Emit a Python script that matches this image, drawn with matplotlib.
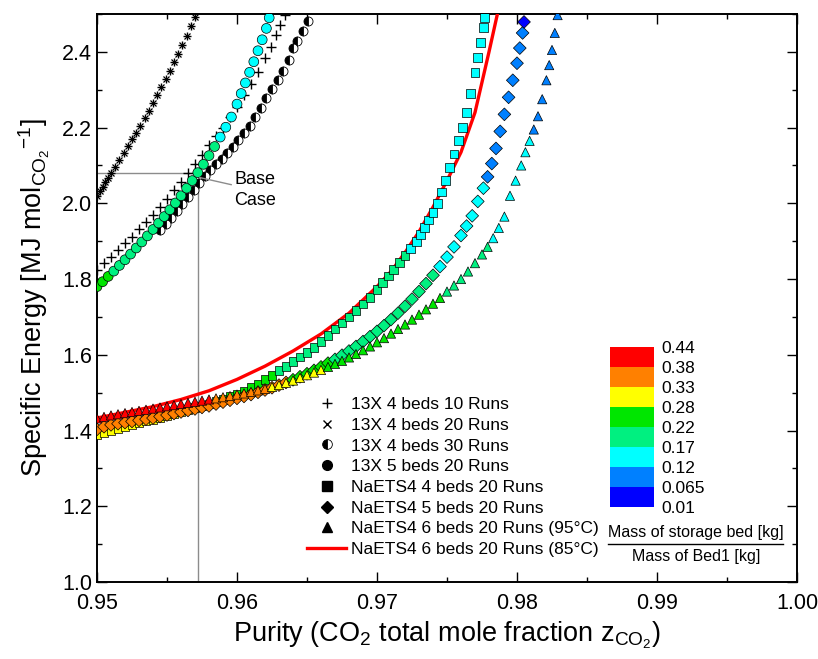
import matplotlib
matplotlib.use('Agg')
import matplotlib.pyplot as plt
from matplotlib.colors import ListedColormap, BoundaryNorm
from matplotlib.lines import Line2D
from matplotlib.cm import ScalarMappable
from matplotlib.ticker import MultipleLocator

plt.rcParams['font.family'] = ['Liberation Sans', 'DejaVu Sans']
plt.rcParams['mathtext.fontset'] = 'custom'
plt.rcParams['mathtext.rm'] = 'Liberation Sans'
plt.rcParams['mathtext.it'] = 'Liberation Sans:italic'

# === Data ===

# 13X 4 beds (upper-left curve, + and x marks)
x_13x_a = [0.9500, 0.9502, 0.9504, 0.9506, 0.9508, 0.9510, 0.9513, 0.9516, 0.9519, 0.9522,
           0.9525, 0.9528, 0.9531, 0.9534, 0.9537, 0.9540, 0.9543, 0.9546, 0.9549, 0.9552,
           0.9555, 0.9558, 0.9561, 0.9564, 0.9567, 0.9570]
y_13x_a = [2.020, 2.032, 2.044, 2.056, 2.068, 2.080, 2.097, 2.115, 2.133, 2.151,
           2.169, 2.187, 2.205, 2.225, 2.245, 2.266, 2.287, 2.308, 2.329, 2.350,
           2.372, 2.395, 2.418, 2.442, 2.467, 2.492]

# 13X 4 beds (+ marks alongside the coloured circles)
x_13x_b = [0.9500, 0.9505, 0.9510, 0.9515, 0.9520, 0.9525, 0.9530, 0.9535, 0.9540, 0.9545,
           0.9550, 0.9555, 0.9560, 0.9565, 0.9570, 0.9575, 0.9580, 0.9585, 0.9590, 0.9595,
           0.9600, 0.9605, 0.9610, 0.9615, 0.9620, 0.9624, 0.9628, 0.9631, 0.9634]
y_13x_b = [1.825, 1.842, 1.859, 1.876, 1.894, 1.912, 1.931, 1.950, 1.970, 1.991,
           2.012, 2.034, 2.056, 2.079, 2.103, 2.128, 2.154, 2.178, 2.200, 2.227,
           2.255, 2.285, 2.316, 2.348, 2.383, 2.413, 2.445, 2.470, 2.497]

# 13X 4 beds 30 Runs (half filled circles)
x_13x_30 = [0.9545, 0.9549, 0.9553, 0.9557, 0.9561, 0.9565, 0.9569, 0.9573, 0.9577, 0.9581,
            0.9585, 0.9589, 0.9593, 0.9597, 0.9601, 0.9605, 0.9609, 0.9613, 0.9617, 0.9621,
            0.9625, 0.9629, 0.9633, 0.9637, 0.9640, 0.9643, 0.9647, 0.9651]
y_13x_30 = [1.930, 1.945, 1.962, 1.980, 1.998, 2.017, 2.036, 2.055, 2.072, 2.088,
            2.103, 2.118, 2.134, 2.150, 2.167, 2.185, 2.204, 2.228, 2.252, 2.277,
            2.302, 2.325, 2.350, 2.378, 2.410, 2.430, 2.455, 2.482]

# 13X 5 beds 20 Runs (circles, coloured by mass ratio)
x_13x_5 = [0.9500, 0.9504, 0.9508, 0.9512, 0.9516, 0.9520, 0.9524, 0.9528, 0.9532, 0.9536,
           0.9540, 0.9544, 0.9548, 0.9552, 0.9556, 0.9560, 0.9564, 0.9568, 0.9572, 0.9576,
           0.9580, 0.9584, 0.9588, 0.9592, 0.9596, 0.9600, 0.9603, 0.9606, 0.9609, 0.9612,
           0.9615, 0.9618, 0.9621, 0.9623]
y_13x_5 = [1.780, 1.793, 1.807, 1.821, 1.836, 1.851, 1.866, 1.882, 1.898, 1.914,
           1.931, 1.948, 1.965, 1.983, 2.001, 2.020, 2.040, 2.060, 2.081, 2.103,
           2.126, 2.150, 2.175, 2.201, 2.228, 2.262, 2.290, 2.318, 2.346, 2.374,
           2.403, 2.432, 2.462, 2.490]
m_13x_5 = [0.24, 0.24, 0.23, 0.21, 0.21, 0.21, 0.20, 0.20, 0.20, 0.20,
           0.20, 0.20, 0.20, 0.19, 0.19, 0.19, 0.19, 0.19, 0.18, 0.18,
           0.18, 0.18, 0.16, 0.16, 0.16, 0.15, 0.15, 0.15, 0.14, 0.14,
           0.14, 0.13, 0.13, 0.13]

# NaETS4 4 beds 20 Runs (squares)
x_na4 = [0.9500, 0.9505, 0.9510, 0.9515, 0.9520, 0.9525, 0.9530, 0.9535, 0.9540, 0.9545,
         0.9550, 0.9555, 0.9560, 0.9565, 0.9570, 0.9575, 0.9580, 0.9585, 0.9590, 0.9595,
         0.9600, 0.9605, 0.9610, 0.9615, 0.9620, 0.9625, 0.9630, 0.9635, 0.9640, 0.9645,
         0.9650, 0.9655, 0.9660, 0.9665, 0.9670, 0.9675, 0.9680, 0.9685, 0.9690, 0.9695,
         0.9700, 0.9704, 0.9708, 0.9712, 0.9716, 0.9720, 0.9724, 0.9728, 0.9731, 0.9734,
         0.9737, 0.9740, 0.9743, 0.9746, 0.9749, 0.9752, 0.9755, 0.9758, 0.9761, 0.9764,
         0.9767, 0.9770, 0.9772, 0.9774, 0.9776, 0.9777]
y_na4 = [1.390, 1.395, 1.400, 1.405, 1.410, 1.415, 1.420, 1.425, 1.430, 1.435,
         1.440, 1.445, 1.450, 1.455, 1.460, 1.465, 1.470, 1.476, 1.482, 1.489,
         1.496, 1.504, 1.513, 1.523, 1.534, 1.546, 1.558, 1.570, 1.582, 1.594,
         1.606, 1.620, 1.636, 1.652, 1.668, 1.684, 1.700, 1.716, 1.734, 1.752,
         1.772, 1.790, 1.808, 1.826, 1.844, 1.862, 1.880, 1.900, 1.918, 1.936,
         1.956, 1.976, 2.000, 2.030, 2.060, 2.095, 2.130, 2.165, 2.200, 2.240,
         2.290, 2.345, 2.385, 2.425, 2.465, 2.490]
m_na4 = [0.30, 0.30, 0.30, 0.30, 0.30, 0.30, 0.30, 0.30, 0.30, 0.30,
         0.30, 0.30, 0.30, 0.30, 0.29, 0.29, 0.29, 0.25, 0.25, 0.25,
         0.25, 0.25, 0.25, 0.25, 0.25, 0.25, 0.20, 0.20, 0.20, 0.20,
         0.20, 0.20, 0.20, 0.20, 0.20, 0.20, 0.20, 0.20, 0.20, 0.20,
         0.19, 0.19, 0.19, 0.19, 0.18, 0.18, 0.15, 0.15, 0.15, 0.15,
         0.15, 0.15, 0.15, 0.14, 0.14, 0.14, 0.14, 0.14, 0.14, 0.14,
         0.13, 0.13, 0.13, 0.13, 0.13, 0.13]

# NaETS4 5 beds 20 Runs (diamonds)
x_na5 = [0.9500, 0.9505, 0.9510, 0.9515, 0.9520, 0.9525, 0.9530, 0.9535, 0.9540, 0.9545,
         0.9550, 0.9555, 0.9560, 0.9565, 0.9570, 0.9575, 0.9580, 0.9585, 0.9590, 0.9595,
         0.9600, 0.9605, 0.9610, 0.9615, 0.9620, 0.9625, 0.9630, 0.9635, 0.9640, 0.9645,
         0.9650, 0.9655, 0.9660, 0.9665, 0.9670, 0.9675, 0.9680, 0.9685, 0.9690, 0.9695,
         0.9700, 0.9705, 0.9710, 0.9715, 0.9720, 0.9725, 0.9730, 0.9735, 0.9740, 0.9745,
         0.9750, 0.9755, 0.9760, 0.9764, 0.9768, 0.9772, 0.9776, 0.9779, 0.9782, 0.9785,
         0.9788, 0.9791, 0.9794, 0.9797, 0.9800, 0.9802, 0.9804, 0.9805]
y_na5 = [1.403, 1.410, 1.415, 1.418, 1.421, 1.424, 1.427, 1.430, 1.433, 1.437,
         1.441, 1.445, 1.449, 1.453, 1.457, 1.461, 1.465, 1.470, 1.475, 1.480,
         1.485, 1.490, 1.495, 1.501, 1.507, 1.513, 1.520, 1.527, 1.534, 1.542,
         1.550, 1.559, 1.568, 1.578, 1.588, 1.599, 1.610, 1.622, 1.635, 1.648,
         1.662, 1.677, 1.693, 1.710, 1.728, 1.747, 1.767, 1.788, 1.810, 1.833,
         1.858, 1.885, 1.915, 1.940, 1.967, 2.005, 2.040, 2.070, 2.105, 2.145,
         2.190, 2.235, 2.280, 2.325, 2.370, 2.410, 2.450, 2.479]
m_na5 = [0.35, 0.35, 0.35, 0.35, 0.35, 0.35, 0.35, 0.35, 0.35, 0.35,
         0.35, 0.35, 0.35, 0.35, 0.35, 0.35, 0.35, 0.35, 0.35, 0.35,
         0.35, 0.35, 0.35, 0.35, 0.35, 0.34, 0.34, 0.34, 0.25, 0.25,
         0.25, 0.25, 0.25, 0.25, 0.20, 0.20, 0.20, 0.20, 0.20, 0.20,
         0.20, 0.20, 0.19, 0.19, 0.19, 0.19, 0.18, 0.18, 0.18, 0.15,
         0.15, 0.15, 0.14, 0.14, 0.14, 0.13, 0.13, 0.10, 0.10, 0.09,
         0.09, 0.09, 0.08, 0.08, 0.08, 0.07, 0.07, 0.03]

# NaETS4 6 beds 20 Runs 95C (triangles)
x_na6 = [0.9500, 0.9505, 0.9510, 0.9515, 0.9520, 0.9525, 0.9530, 0.9535, 0.9540, 0.9545,
         0.9550, 0.9555, 0.9560, 0.9565, 0.9570, 0.9575, 0.9580, 0.9585, 0.9590, 0.9595,
         0.9600, 0.9605, 0.9610, 0.9615, 0.9620, 0.9625, 0.9630, 0.9635, 0.9640, 0.9645,
         0.9650, 0.9655, 0.9660, 0.9665, 0.9670, 0.9675, 0.9680, 0.9685, 0.9690, 0.9695,
         0.9700, 0.9705, 0.9710, 0.9715, 0.9720, 0.9725, 0.9730, 0.9735, 0.9740, 0.9745,
         0.9750, 0.9755, 0.9760, 0.9765, 0.9770, 0.9775, 0.9779, 0.9783, 0.9787, 0.9791,
         0.9795, 0.9799, 0.9803, 0.9806, 0.9809, 0.9812, 0.9815, 0.9818, 0.9821, 0.9823,
         0.9825, 0.9827, 0.9829]
y_na6 = [1.432, 1.436, 1.440, 1.443, 1.446, 1.449, 1.452, 1.455, 1.458, 1.461,
         1.464, 1.467, 1.470, 1.473, 1.476, 1.479, 1.482, 1.485, 1.488, 1.491,
         1.495, 1.498, 1.502, 1.506, 1.510, 1.515, 1.520, 1.526, 1.532, 1.539,
         1.546, 1.553, 1.560, 1.568, 1.576, 1.584, 1.593, 1.602, 1.612, 1.622,
         1.633, 1.644, 1.656, 1.668, 1.680, 1.693, 1.706, 1.720, 1.735, 1.750,
         1.767, 1.783, 1.800, 1.820, 1.842, 1.865, 1.885, 1.908, 1.935, 1.965,
         2.020, 2.060, 2.100, 2.135, 2.165, 2.195, 2.230, 2.275, 2.325, 2.365,
         2.405, 2.450, 2.497]
m_na6 = [0.40, 0.40, 0.40, 0.40, 0.40, 0.40, 0.40, 0.40, 0.40, 0.40,
         0.40, 0.40, 0.40, 0.40, 0.40, 0.40, 0.40, 0.35, 0.35, 0.35,
         0.35, 0.35, 0.35, 0.35, 0.35, 0.30, 0.30, 0.30, 0.30, 0.30,
         0.30, 0.30, 0.30, 0.25, 0.25, 0.25, 0.25, 0.25, 0.25, 0.25,
         0.25, 0.25, 0.25, 0.25, 0.25, 0.24, 0.24, 0.23, 0.23, 0.23,
         0.20, 0.20, 0.20, 0.20, 0.19, 0.19, 0.18, 0.15, 0.15, 0.15,
         0.14, 0.14, 0.13, 0.13, 0.13, 0.10, 0.10, 0.09, 0.09, 0.08,
         0.08, 0.08, 0.08]

# NaETS4 6 beds 20 Runs 85C (red line)
x_na6_85 = [0.9500, 0.9520, 0.9540, 0.9560, 0.9580, 0.9600, 0.9620, 0.9640, 0.9660, 0.9680,
            0.9700, 0.9710, 0.9720, 0.9730, 0.9740, 0.9750, 0.9760, 0.9770, 0.9780, 0.9786]
y_na6_85 = [1.433, 1.448, 1.463, 1.482, 1.505, 1.535, 1.57, 1.61, 1.655, 1.71,
            1.78, 1.82, 1.87, 1.925, 1.99, 2.06, 2.135, 2.24, 2.40, 2.50]

# base case
base_x = 0.9572
base_y = 2.08

# colour scale (mass of storage bed / mass of bed 1)
mass_bounds = [0.01, 0.065, 0.12, 0.17, 0.22, 0.28, 0.33, 0.38, 0.44]
mass_labels = ['0.01', '0.065', '0.12', '0.17', '0.22', '0.28', '0.33', '0.38', '0.44']
band_colors = ['#0000ff', '#0080ff', '#00ffff', '#00f080', '#00e600', '#ffff00', '#ff8000', '#ff0000']

legend_labels = ['13X 4 beds 10 Runs', '13X 4 beds 20 Runs', '13X 4 beds 30 Runs',
                 '13X 5 beds 20 Runs', 'NaETS4 4 beds 20 Runs', 'NaETS4 5 beds 20 Runs',
                 'NaETS4 6 beds 20 Runs (95°C)', 'NaETS4 6 beds 20 Runs (85°C)']

# === Plot ===
cmap = ListedColormap(band_colors)
norm = BoundaryNorm(mass_bounds, cmap.N)

fig = plt.figure(figsize=(8.18, 6.59), dpi=100)
ax = fig.add_axes([97/818, 1-582/659, 700/818, 568/659])

ax.plot([base_x, base_x], [1.0, base_y], color='#8c8c8c', lw=1.0, zorder=1)
ax.plot([0.95, base_x], [base_y, base_y], color='#8c8c8c', lw=1.0, zorder=1)

ax.plot(x_13x_a, y_13x_a, ls='none', marker='+', ms=6, mew=1.0, color='k', zorder=2)
ax.plot(x_13x_a, y_13x_a, ls='none', marker='x', ms=4.5, mew=0.9, color='k', zorder=2)
ax.plot(x_13x_b, y_13x_b, ls='none', marker='+', ms=7, mew=1.0, color='k', zorder=2)
ax.plot(x_13x_30, y_13x_30, ls='none', marker='o', ms=6.5, fillstyle='left',
        mfc='black', mfcalt='white', mec='black', mew=0.6, zorder=2)

ax.scatter(x_13x_5, y_13x_5, c=m_13x_5, cmap=cmap, norm=norm, marker='o', s=50,
           edgecolors='k', linewidths=0.5, zorder=3)

ax.plot(x_na6_85, y_na6_85, color='#ff0000', lw=2.4, zorder=3)

ax.scatter(x_na4, y_na4, c=m_na4, cmap=cmap, norm=norm, marker='s', s=40,
           edgecolors='k', linewidths=0.5, zorder=4)
ax.scatter(x_na5, y_na5, c=m_na5, cmap=cmap, norm=norm, marker='D', s=42,
           edgecolors='k', linewidths=0.5, zorder=4)
ax.scatter(x_na6, y_na6, c=m_na6, cmap=cmap, norm=norm, marker='^', s=44,
           edgecolors='k', linewidths=0.5, zorder=4)

ax.annotate('Base\nCase', xy=(base_x + 0.00015, base_y - 0.012), xytext=(0.9598, 2.035),
            fontsize=13, va='center', ha='left', linespacing=1.3,
            arrowprops=dict(arrowstyle='-', color='#8c8c8c', lw=1.0, shrinkA=0, shrinkB=0))

ax.set_xlim(0.95, 1.00)
ax.set_ylim(1.0, 2.5)
ax.xaxis.set_major_locator(MultipleLocator(0.01))
ax.xaxis.set_minor_locator(MultipleLocator(0.005))
ax.yaxis.set_major_locator(MultipleLocator(0.2))
ax.yaxis.set_minor_locator(MultipleLocator(0.1))
ax.set_xticklabels([f'{v:.2f}' for v in ax.get_xticks()])
ax.set_yticklabels([f'{v:.1f}' for v in ax.get_yticks()])
ax.tick_params(which='both', direction='in', top=True, right=True, width=1.0, labelsize=15.5)
ax.tick_params(which='major', length=7)
ax.tick_params(which='minor', length=3.8)
ax.tick_params(axis='x', pad=8)
for sp in ax.spines.values():
    sp.set_linewidth(1.4)

ax.set_xlabel('Purity (CO$_\\mathregular{2}$ total mole fraction z$_{\\mathregular{CO_2}}$)',
              fontsize=19.5, labelpad=4)
ax.set_ylabel('Specific Energy [MJ mol$_{\\mathregular{CO_2}}$$^{\\mathregular{-1}}$]',
              fontsize=19.5, labelpad=7)

handles = [
    Line2D([], [], ls='none', marker='+', ms=7, mew=1.0, color='k'),
    Line2D([], [], ls='none', marker='x', ms=6, mew=1.0, color='k'),
    Line2D([], [], ls='none', marker='o', ms=7, fillstyle='left', mfc='black',
           mfcalt='white', mec='black', mew=0.6),
    Line2D([], [], ls='none', marker='o', ms=7, color='k'),
    Line2D([], [], ls='none', marker='s', ms=6.5, color='k'),
    Line2D([], [], ls='none', marker='D', ms=6.5, color='k'),
    Line2D([], [], ls='none', marker='^', ms=7, color='k'),
    Line2D([], [], color='#ff0000', lw=2.4),
]
ax.legend(handles, legend_labels, loc='upper left', bbox_to_anchor=(307/818, 1-397/659),
          bbox_transform=fig.transFigure, frameon=False, fontsize=12.5,
          handlelength=2.27, handletextpad=0.25, labelspacing=0.32, borderpad=0,
          borderaxespad=0)

# colour bar
cax = fig.add_axes([610/818, 1-507/659, 44/818, 160/659])
cb = fig.colorbar(ScalarMappable(norm=norm, cmap=cmap), cax=cax, ticks=mass_bounds)
cb.set_ticklabels(mass_labels)
cb.outline.set_visible(False)
cax.tick_params(length=0, labelsize=12.5, pad=5)

fig.text(696/818, 1-532/659, 'Mass of storage bed [kg]', fontsize=11.5, ha='center', va='center')
fig.text(696/818, 1-556/659, 'Mass of Bed1 [kg]', fontsize=11.5, ha='center', va='center')
fig.add_artist(Line2D([608/818, 783/818], [1-544/659, 1-544/659], color='k', lw=1.0,
                      transform=fig.transFigure))

plt.savefig('out.png', dpi=100)
plt.close(fig)
